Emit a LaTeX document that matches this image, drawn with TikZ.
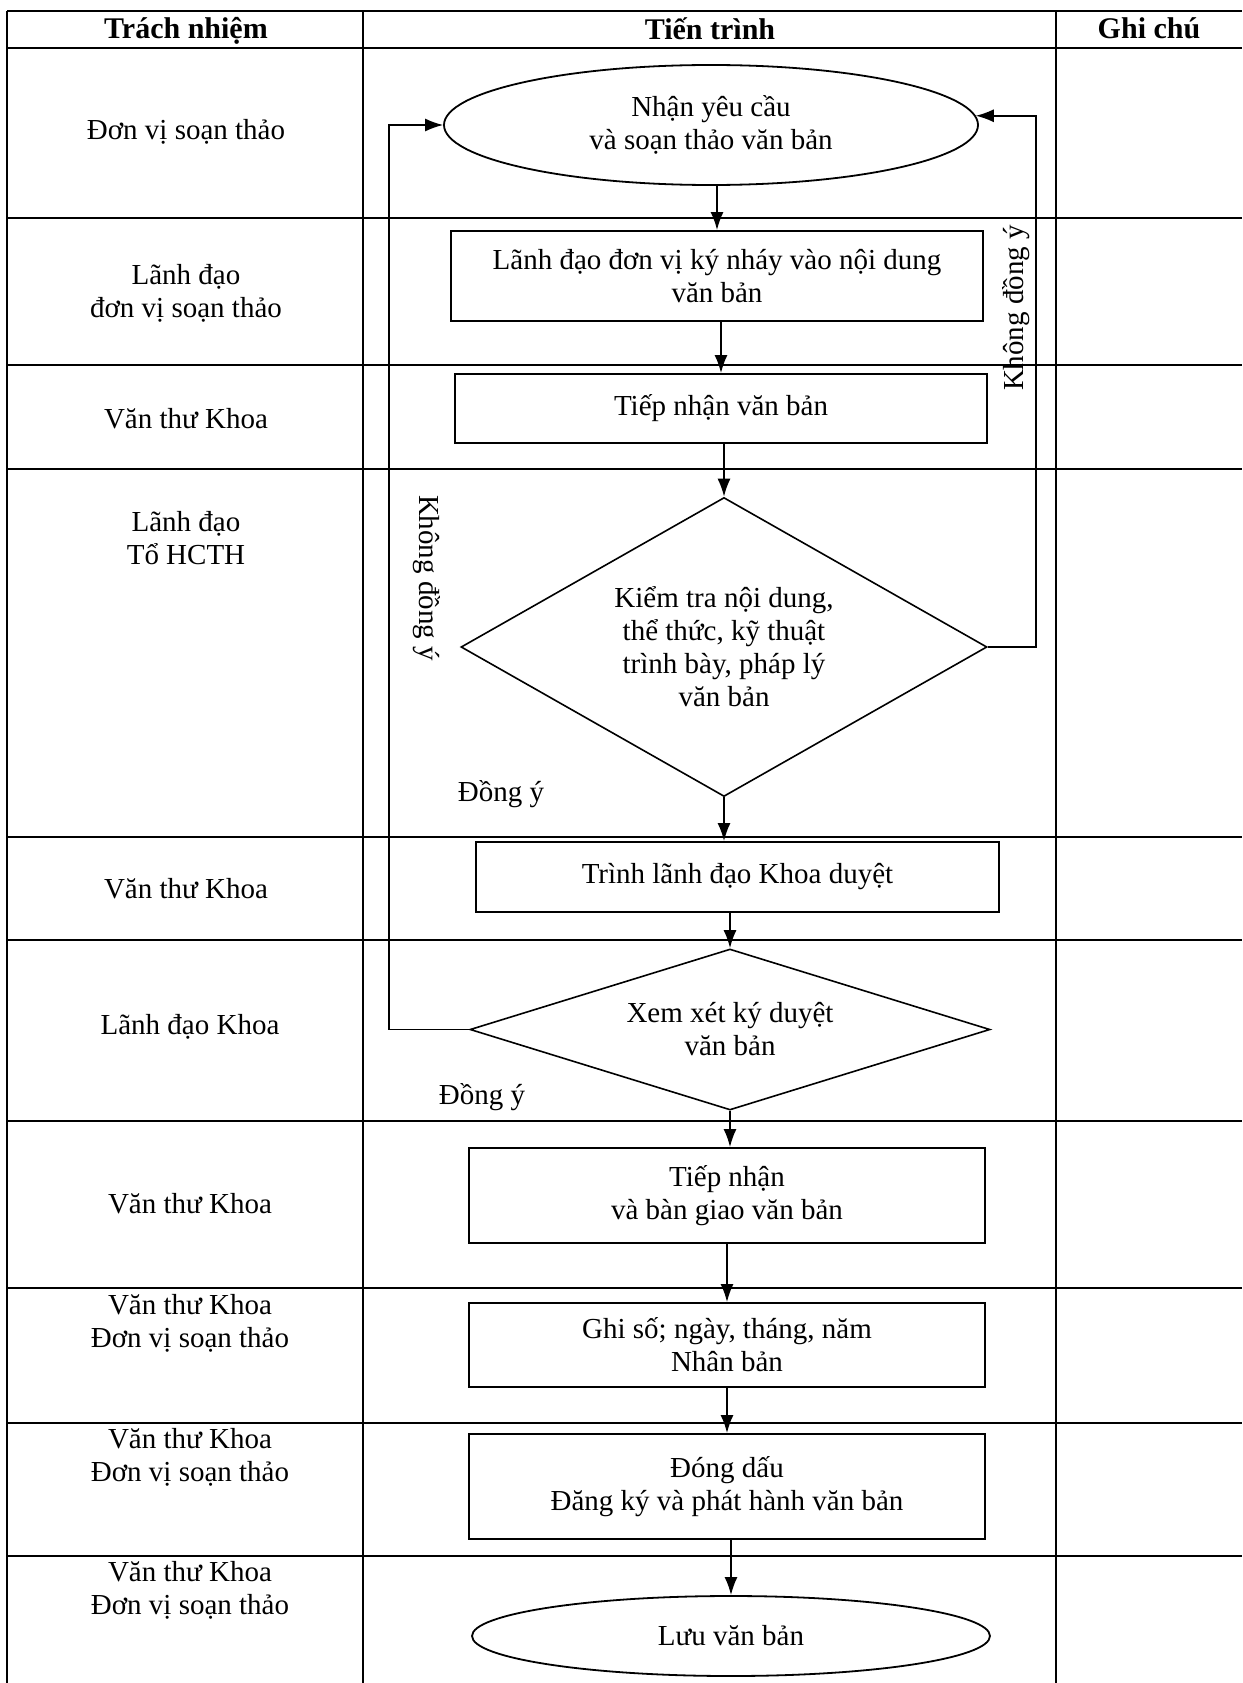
\documentclass[tikz,border=0pt]{standalone}
\usepackage{fontspec}
\setmainfont{Liberation Serif}
\usetikzlibrary{shapes.geometric,arrows.meta}
\newcommand{\fsz}{\fontsize{29}{33}\selectfont}
\newcommand{\fhd}{\fontsize{30}{33}\selectfont\bfseries}
\tikzset{
  gridline/.style={line width=1.8pt},
  boxnode/.style={draw,line width=1.8pt,rectangle,align=center,font=\fsz,inner sep=0pt},
  ellnode/.style={draw,line width=1.8pt,ellipse,align=center,font=\fsz,inner sep=0pt},
  dianode/.style={draw,line width=1.6pt,diamond,align=center,font=\fsz,inner sep=0pt},
  lbl/.style={align=center,font=\fsz,inner sep=0pt},
  hdr/.style={align=center,font=\fhd,inner sep=0pt},
  arr/.style={line width=1.8pt,-{Latex[length=18pt,width=13pt]}},
  loopline/.style={line width=1.5pt,-{Latex[length=18pt,width=13pt]}}
}
\begin{document}
\begin{tikzpicture}[x=1pt,y=-1pt]
\useasboundingbox (0,0) rectangle (1242,1683);
\fill[white] (0,0) rectangle (1242,1683);
% table grid
\draw[gridline] (7,11) -- (1242,11);
\foreach \yy in {48,218,365,469,837,940,1121,1288,1423,1556}{
  \draw[gridline] (7,\yy) -- (1242,\yy);
}
\draw[gridline] (7,11) -- (7,1683);
\draw[gridline] (363,11) -- (363,1683);
\draw[gridline] (1056,11) -- (1056,1683);

% headers
\node[hdr] (h1) at (186,31) {Trách nhiệm};
\node[hdr] (h2) at (710,29) {Tiến trình};
\node[hdr] (h3) at (1149,28) {Ghi chú};

% left column
\node[lbl] (l1) at (186,132) {Đơn vị soạn thảo};
\node[lbl] (l2) at (186,293) {Lãnh đạo\\đơn vị soạn thảo};
\node[lbl] (l3) at (186,419) {Văn thư Khoa};
\node[lbl] (l4) at (186,538) {Lãnh đạo\\Tổ HCTH};
\node[lbl] (l5) at (186,889) {Văn thư Khoa};
\node[lbl] (l6) at (190,1027) {Lãnh đạo Khoa};
\node[lbl] (l7) at (190,1204) {Văn thư Khoa};
\node[lbl] (l8) at (190,1323) {Văn thư Khoa\\Đơn vị soạn thảo};
\node[lbl] (l9) at (190,1457) {Văn thư Khoa\\Đơn vị soạn thảo};
\node[lbl] (l10) at (190,1590) {Văn thư Khoa\\Đơn vị soạn thảo};

% process shapes
\node[ellnode,minimum width=534pt,minimum height=120pt] (e1) at (711,125) {Nhận yêu cầu\\và soạn thảo văn bản};
\node[boxnode,minimum width=532pt,minimum height=90pt] (r2) at (717,276) {Lãnh đạo đơn vị ký nháy vào nội dung\\văn bản};
\node[boxnode,minimum width=532pt,minimum height=69pt] (r3) at (721,408.5) {Tiếp nhận văn bản};
\node[dianode,aspect=1.76,minimum width=526pt,minimum height=299pt] (d1) at (724,647) {Kiểm tra nội dung,\\thể thức, kỹ thuật\\trình bày, pháp lý\\văn bản};
\node[boxnode,minimum width=523pt,minimum height=70pt] (r5) at (737.5,877) {Trình lãnh đạo Khoa duyệt};
\node[dianode,aspect=3.2,minimum width=520pt,minimum height=161pt] (d2) at (730,1029.5) {Xem xét ký duyệt\\văn bản};
\node[boxnode,minimum width=516pt,minimum height=95pt] (r7) at (727,1195.5) {Tiếp nhận\\và bàn giao văn bản};
\node[boxnode,minimum width=516pt,minimum height=84pt] (r8) at (727,1345) {Ghi số; ngày, tháng, năm\\Nhân bản};
\node[boxnode,minimum width=516pt,minimum height=105pt] (r9) at (727,1486.5) {Đóng dấu\\Đăng ký và phát hành văn bản};
\node[ellnode,minimum width=518pt,minimum height=80pt] (e2) at (731,1636) {Lưu văn bản};

% main flow arrows
\draw[arr] (e1.south -| r2.north) -- (r2.north);
\draw[arr] (r2.south -| r3.north) -- (r3.north);
\draw[arr] (r3.south -| d1.north) -- (d1.north);
\draw[arr] (d1.south) -- (d1.south |- r5.north);
\draw[arr] (r5.south -| d2.north) -- (d2.north);
\draw[arr] (d2.south) -- (d2.south |- r7.north);
\draw[arr] (r7.south) -- (r8.north);
\draw[arr] (r8.south) -- (r9.north);
\draw[arr] (r9.south -| e2.north) -- (e2.north);

% feedback loops
\draw[loopline] (d1.east) -- ++(48,0) |- (e1.2);
\draw[loopline] (d2.west) -- ++(-80,0) |- (e1.west);

% labels
\node[lbl,rotate=90] (k1) at (1016,308) {Không đồng ý};
\node[lbl,rotate=-90] (k2) at (427,578) {Không đồng ý};
\node[lbl] (o1) at (501,794) {Đồng ý};
\node[lbl] (o2) at (482,1097) {Đồng ý};
\end{tikzpicture}
\end{document}
